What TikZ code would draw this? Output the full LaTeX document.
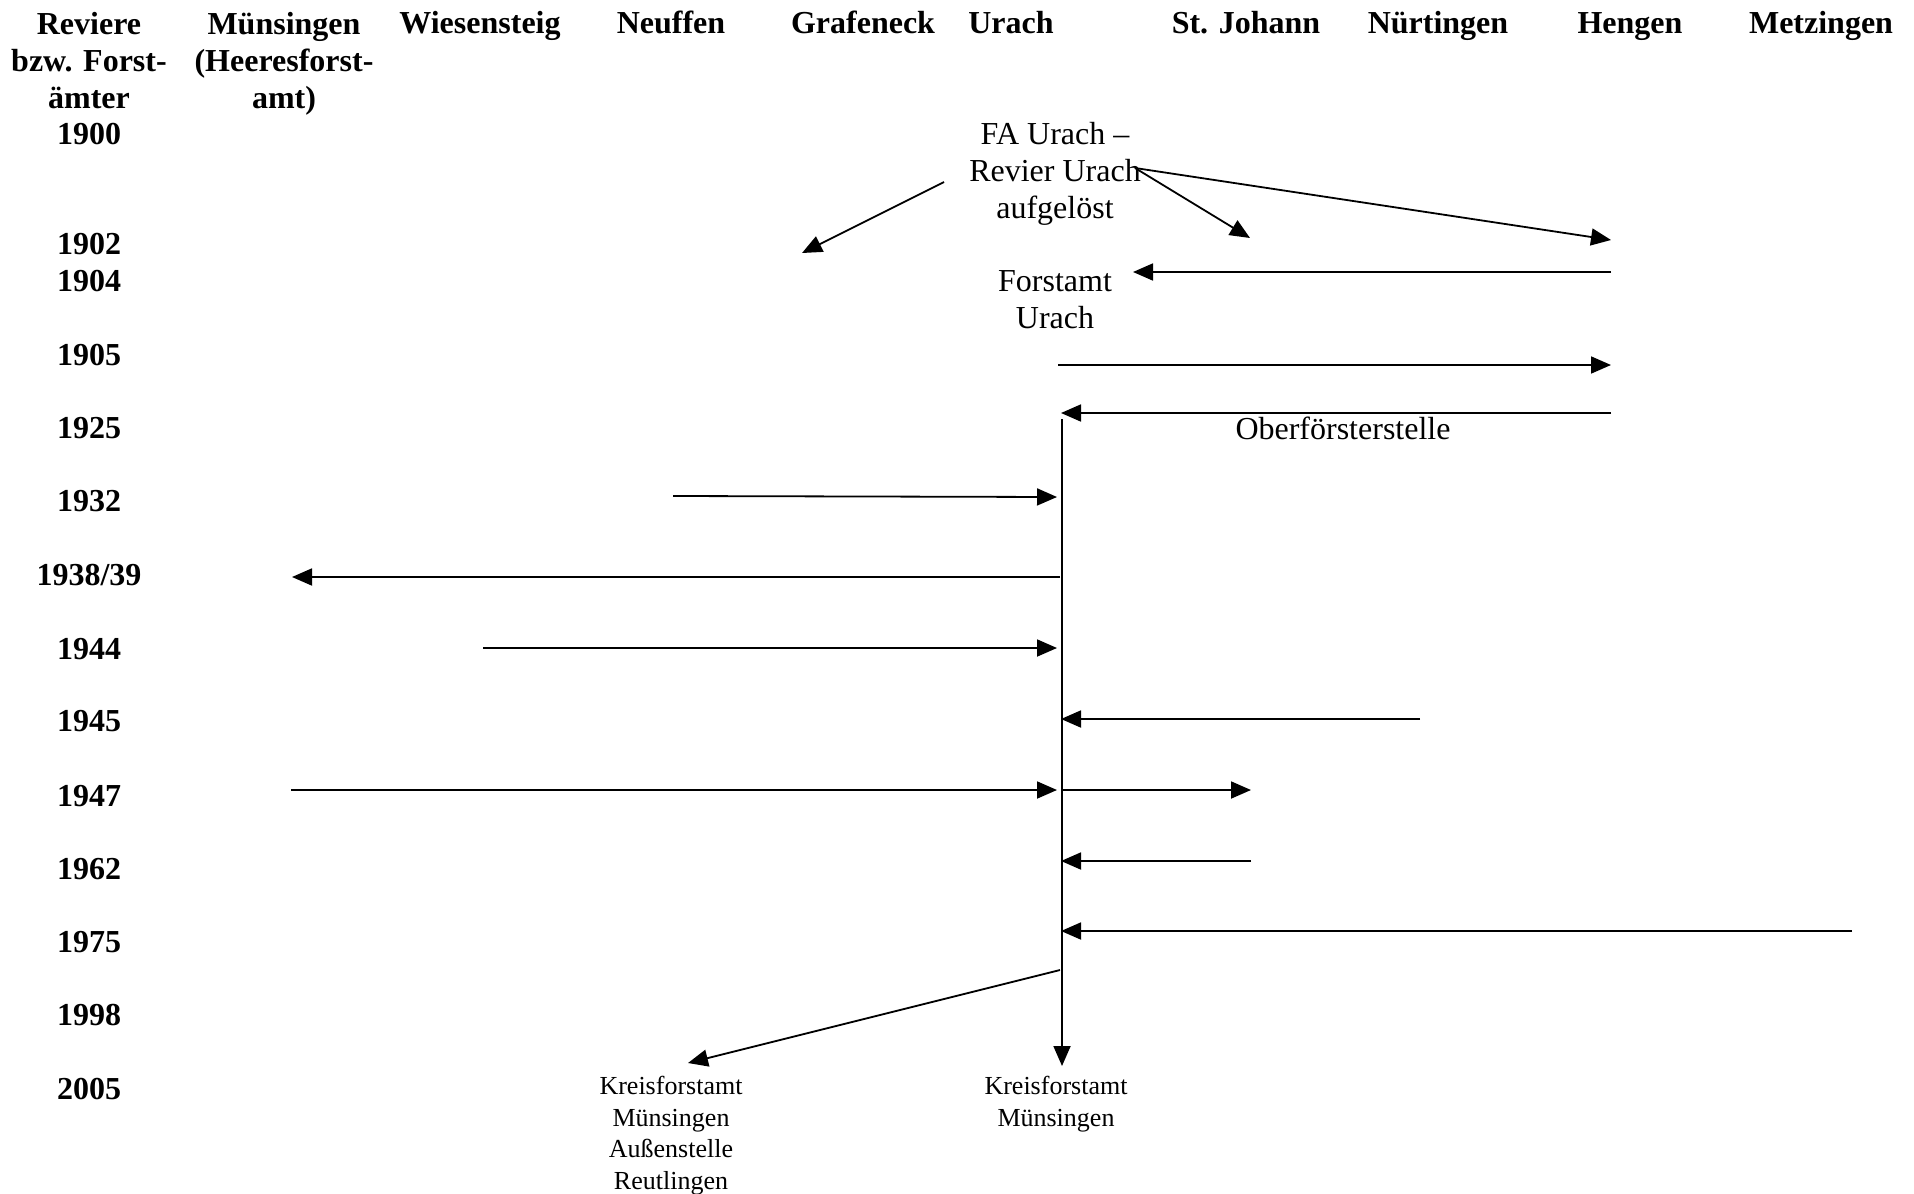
\documentclass[tikz,border=0pt]{standalone}
\usepackage{fontspec}
\setmainfont{Liberation Serif}
\usetikzlibrary{arrows.meta}
\begin{document}
\begin{tikzpicture}[x=0.5pt,y=-0.5pt,
  hd/.style={font=\fontsize{16}{18.5}\selectfont\bfseries, anchor=base, inner sep=0pt, align=center},
  lbl/.style={font=\fontsize{16}{18.5}\selectfont, anchor=base, inner sep=0pt, align=center},
  sm/.style={font=\fontsize{13}{15.7}\selectfont, anchor=base, inner sep=0pt, align=center},
  arr/.style={line width=0.9pt, -{Triangle[length=10pt,width=8.5pt]}},
  ln/.style={line width=0.9pt}]
\useasboundingbox (0,0) rectangle (1914,1193);
% header (base anchor = baseline of last line)
\node[hd] (hrev) at (89,109) {Reviere\\bzw. Forst-\\ämter};
\node[hd] (hmue) at (284,109) {Münsingen\\(Heeresforst-\\amt)};
\node[hd] (hwie) at (480,34) {Wiesensteig};
\node[hd] (hneu) at (671,34) {Neuffen};
\node[hd] (hgra) at (863,34) {Grafeneck};
\node[hd] (hura) at (1011,34) {Urach};
\node[hd] (hstj) at (1246,34) {St. Johann};
\node[hd] (hnue) at (1438,34) {Nürtingen};
\node[hd] (hhen) at (1630,34) {Hengen};
\node[hd] (hmet) at (1821,34) {Metzingen};
% years
\node[hd] (y1900) at (89,144) {1900};
\node[hd] (y1902) at (89,254) {1902};
\node[hd] (y1904) at (89,291) {1904};
\node[hd] (y1905) at (89,365) {1905};
\node[hd] (y1925) at (89,438) {1925};
\node[hd] (y1932) at (89,511) {1932};
\node[hd] (y1938) at (89,585) {1938/39};
\node[hd] (y1944) at (89,659) {1944};
\node[hd] (y1945) at (89,731) {1945};
\node[hd] (y1947) at (89,806) {1947};
\node[hd] (y1962) at (89,879) {1962};
\node[hd] (y1975) at (89,952) {1975};
\node[hd] (y1998) at (89,1025) {1998};
\node[hd] (y2005) at (89,1099) {2005};
% labels
\node[lbl] (fa) at (1055,218) {FA Urach –\\Revier Urach\\aufgelöst};
\node[lbl] (fu) at (1055,328) {Forstamt\\Urach};
\node[lbl] (ofs) at (1343,439) {Oberförsterstelle};
\node[sm] (kfa) at (671,1189) {Kreisforstamt\\Münsingen\\Außenstelle\\Reutlingen};
\node[sm] (kfm) at (1056,1126) {Kreisforstamt\\Münsingen};
% coordinates
\coordinate (a1s) at (944,182);  \coordinate (a1e) at (802,253);
\coordinate (a2s) at (1135,168); \coordinate (a2e) at (1250,238);
\coordinate (a3e) at (1611,240);
\coordinate (b1s) at (1611,272); \coordinate (b1e) at (1133,272);
\coordinate (c1s) at (1058,365); \coordinate (c1e) at (1611,365);
\coordinate (d1s) at (1611,413); \coordinate (d1e) at (1061,413);
\coordinate (vs) at (1062,419);  \coordinate (ve) at (1062,1066);
\coordinate (e1s) at (673,496);  \coordinate (e1e) at (1057,497);
\coordinate (f1s) at (1060,577); \coordinate (f1e) at (292,577);
\coordinate (g1s) at (483,648);  \coordinate (g1e) at (1057,648);
\coordinate (h1s) at (1420,719); \coordinate (h1e) at (1061,719);
\coordinate (i1s) at (291,790);  \coordinate (i1e) at (1057,790);
\coordinate (i2s) at (1062,790); \coordinate (i2e) at (1251,790);
\coordinate (j1s) at (1251,861); \coordinate (j1e) at (1061,861);
\coordinate (k1s) at (1852,931); \coordinate (k1e) at (1061,931);
\coordinate (l1s) at (1060,970); \coordinate (l1e) at (688,1063);
% arrows
\draw[arr] (a1s) -- (a1e);
\draw[arr] (a2s) -- (a2e);
\draw[arr] (a2s) -- (a3e);
\draw[arr] (b1s) -- (b1e);
\draw[arr] (c1s) -- (c1e);
\draw[arr] (d1s) -- (d1e);
\draw[arr] (vs) -- (ve);
\draw[arr] (e1s) -- (e1e);
\draw[arr] (f1s) -- (f1e);
\draw[arr] (g1s) -- (g1e);
\draw[arr] (h1s) -- (h1e);
\draw[arr] (i1s) -- (i1e);
\draw[arr] (i2s) -- (i2e);
\draw[arr] (j1s) -- (j1e);
\draw[arr] (k1s) -- (k1e);
\draw[arr] (l1s) -- (l1e);
\end{tikzpicture}
\end{document}
